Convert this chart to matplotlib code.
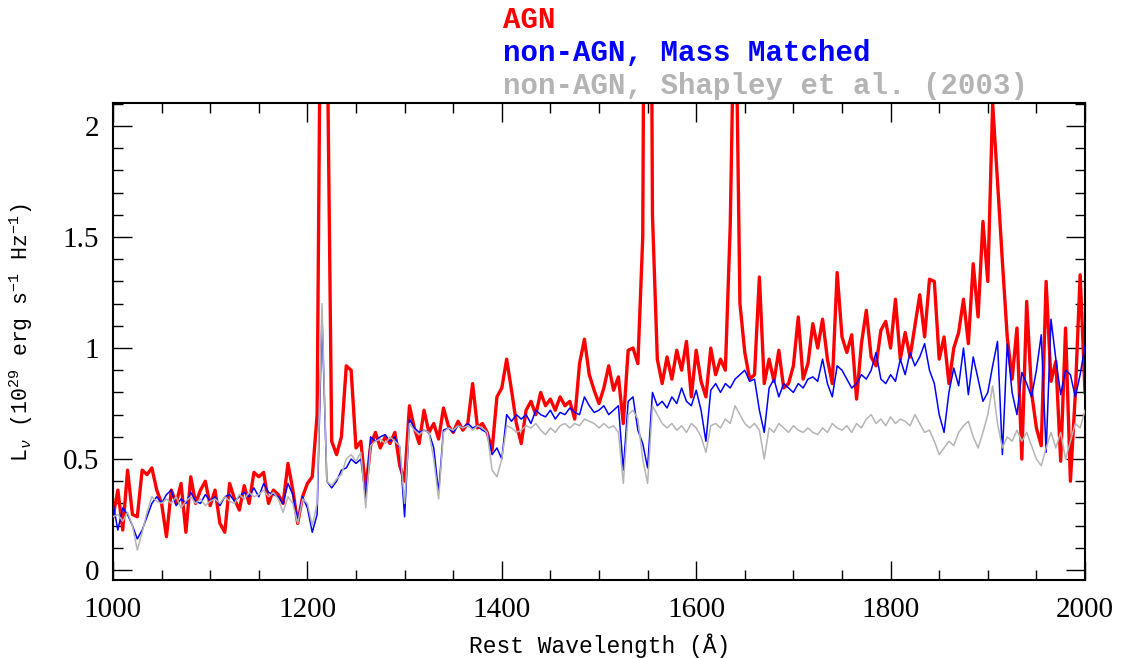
import numpy as np
import matplotlib
matplotlib.use("Agg")
import matplotlib.pyplot as plt
from matplotlib.ticker import MultipleLocator

# Rest-frame wavelength grid (Angstrom), 5 A bins
wavelength = np.arange(1000, 2001, 5)

# Composite spectra, L_nu in units of 1e29 erg/s/Hz
agn = [
    0.24, 0.36, 0.18, 0.45, 0.25, 0.24, 0.45, 0.43, 0.46, 0.36,
    0.30, 0.15, 0.36, 0.30, 0.39, 0.17, 0.42, 0.30, 0.36, 0.40,
    0.29, 0.36, 0.21, 0.17, 0.39, 0.32, 0.27, 0.38, 0.30, 0.44,
    0.42, 0.44, 0.30, 0.36, 0.34, 0.30, 0.48, 0.36, 0.21, 0.33,
    0.39, 0.42, 0.70, 3.50, 2.60, 0.58, 0.52, 0.60, 0.92, 0.90,
    0.55, 0.58, 0.36, 0.56, 0.62, 0.55, 0.60, 0.57, 0.62, 0.47,
    0.40, 0.74, 0.64, 0.57, 0.72, 0.62, 0.66, 0.59, 0.73, 0.65,
    0.62, 0.67, 0.63, 0.66, 0.84, 0.64, 0.66, 0.62, 0.54, 0.78,
    0.82, 0.95, 0.81, 0.66, 0.57, 0.72, 0.76, 0.70, 0.80, 0.74,
    0.77, 0.72, 0.78, 0.74, 0.76, 0.68, 0.93, 1.04, 0.88, 0.81,
    0.75, 0.82, 0.92, 0.81, 0.87, 0.66, 0.99, 1.00, 0.93, 1.50,
    6.00, 1.60, 0.95, 0.84, 0.96, 0.86, 0.99, 0.90, 1.03, 0.78,
    0.99, 0.85, 0.78, 1.00, 0.88, 0.95, 0.90, 1.55, 2.80, 1.20,
    0.98, 0.86, 0.88, 1.32, 0.84, 0.95, 0.85, 0.99, 0.82, 0.84,
    0.92, 1.14, 0.86, 0.93, 1.11, 1.00, 1.13, 0.95, 0.84, 1.34,
    1.05, 0.98, 1.06, 0.77, 1.02, 1.17, 0.96, 0.92, 1.08, 1.12,
    1.00, 1.22, 0.95, 1.07, 0.96, 1.10, 1.24, 1.05, 1.31, 1.30,
    0.95, 1.05, 0.84, 1.00, 1.07, 1.22, 1.02, 1.38, 1.14, 1.57,
    1.30, 2.10, 1.75, 1.39, 1.05, 0.86, 1.09, 0.50, 1.21, 0.80,
    0.64, 0.56, 1.30, 0.85, 0.94, 0.49, 1.09, 0.40, 0.79, 1.33,
    0.80,
]

mass_matched = [
    0.30, 0.18, 0.28, 0.25, 0.20, 0.14, 0.18, 0.24, 0.30, 0.33,
    0.30, 0.34, 0.36, 0.29, 0.32, 0.30, 0.35, 0.31, 0.30, 0.34,
    0.31, 0.33, 0.29, 0.33, 0.34, 0.31, 0.33, 0.35, 0.33, 0.37,
    0.33, 0.39, 0.35, 0.34, 0.33, 0.30, 0.39, 0.34, 0.22, 0.33,
    0.28, 0.17, 0.25, 1.15, 0.40, 0.37, 0.40, 0.45, 0.46, 0.50,
    0.48, 0.50, 0.32, 0.60, 0.58, 0.60, 0.61, 0.58, 0.60, 0.55,
    0.24, 0.68, 0.64, 0.62, 0.63, 0.62, 0.55, 0.35, 0.63, 0.64,
    0.62, 0.65, 0.64, 0.66, 0.64, 0.65, 0.63, 0.62, 0.52, 0.55,
    0.50, 0.70, 0.67, 0.70, 0.68, 0.70, 0.66, 0.72, 0.70, 0.69,
    0.72, 0.68, 0.71, 0.70, 0.73, 0.71, 0.70, 0.78, 0.74, 0.71,
    0.72, 0.74, 0.70, 0.72, 0.74, 0.45, 0.76, 0.78, 0.63, 0.57,
    0.46, 0.80, 0.74, 0.76, 0.73, 0.78, 0.75, 0.82, 0.76, 0.74,
    0.81, 0.72, 0.58, 0.81, 0.84, 0.80, 0.84, 0.82, 0.86, 0.88,
    0.90, 0.85, 0.86, 0.72, 0.62, 0.82, 0.86, 0.78, 0.84, 0.82,
    0.80, 0.84, 0.82, 0.86, 0.87, 0.85, 0.95, 0.84, 0.78, 0.92,
    0.90, 0.86, 0.82, 0.84, 0.88, 0.86, 0.90, 0.98, 0.86, 0.84,
    0.88, 0.85, 0.95, 0.88, 0.98, 0.92, 0.96, 1.02, 0.90, 0.84,
    0.70, 0.62, 0.80, 0.91, 0.83, 1.00, 0.79, 0.96, 0.86, 0.76,
    0.80, 0.92, 1.03, 0.52, 1.02, 0.80, 0.70, 0.89, 0.84, 0.78,
    0.90, 1.06, 0.53, 1.13, 0.95, 0.79, 0.90, 0.88, 0.78, 0.88,
    1.01,
]

shapley = [
    0.24, 0.25, 0.22, 0.26, 0.20, 0.09, 0.17, 0.26, 0.33, 0.31,
    0.30, 0.32, 0.30, 0.33, 0.28, 0.31, 0.33, 0.30, 0.32, 0.29,
    0.31, 0.32, 0.30, 0.33, 0.31, 0.30, 0.34, 0.32, 0.35, 0.33,
    0.34, 0.36, 0.33, 0.35, 0.32, 0.26, 0.33, 0.30, 0.21, 0.32,
    0.30, 0.20, 0.30, 1.20, 0.40, 0.38, 0.41, 0.43, 0.50, 0.52,
    0.49, 0.53, 0.28, 0.56, 0.58, 0.59, 0.57, 0.60, 0.58, 0.56,
    0.30, 0.66, 0.63, 0.61, 0.63, 0.62, 0.50, 0.32, 0.62, 0.64,
    0.63, 0.65, 0.64, 0.65, 0.63, 0.65, 0.64, 0.62, 0.45, 0.42,
    0.50, 0.65, 0.64, 0.62, 0.63, 0.65, 0.64, 0.66, 0.63, 0.61,
    0.64, 0.62, 0.65, 0.66, 0.64, 0.66, 0.65, 0.68, 0.67, 0.66,
    0.64, 0.66, 0.64, 0.65, 0.62, 0.39, 0.70, 0.72, 0.68, 0.50,
    0.39, 0.74, 0.70, 0.66, 0.64, 0.66, 0.63, 0.65, 0.62, 0.66,
    0.64, 0.60, 0.53, 0.65, 0.66, 0.64, 0.68, 0.66, 0.74, 0.70,
    0.66, 0.64, 0.66, 0.63, 0.50, 0.64, 0.62, 0.66, 0.64, 0.62,
    0.65, 0.63, 0.62, 0.64, 0.62, 0.61, 0.64, 0.62, 0.66, 0.64,
    0.63, 0.65, 0.62, 0.66, 0.64, 0.68, 0.70, 0.66, 0.68, 0.65,
    0.69, 0.66, 0.68, 0.67, 0.65, 0.70, 0.66, 0.62, 0.63, 0.58,
    0.52, 0.55, 0.58, 0.56, 0.62, 0.65, 0.67, 0.60, 0.55, 0.62,
    0.70, 0.83, 0.66, 0.55, 0.60, 0.58, 0.63, 0.58, 0.62, 0.56,
    0.50, 0.47, 0.55, 0.62, 0.55, 0.62, 0.50, 0.58, 0.66, 0.64,
    0.72,
]

series_labels = ["AGN", "non-AGN, Mass Matched", "non-AGN, Shapley et al. (2003)"]
series_colors = ["#ff0000", "#0000ff", "#b4b4b4"]

plt.rcParams["mathtext.fontset"] = "custom"
plt.rcParams["mathtext.rm"] = "Liberation Mono"
plt.rcParams["mathtext.it"] = "Liberation Mono:italic"
plt.rcParams["mathtext.bf"] = "Liberation Mono:bold"

W, H = 1125, 658
fig = plt.figure(figsize=(W / 100, H / 100), dpi=100)
ax = fig.add_axes([113 / W, 1 - 580 / H, (1085 - 113) / W, (580 - 103) / H])

ax.plot(wavelength, agn, color=series_colors[0], lw=2.4, zorder=2)
ax.plot(wavelength, mass_matched, color=series_colors[1], lw=1.1, zorder=3)
ax.plot(wavelength, shapley, color=series_colors[2], lw=1.1, zorder=4)

ax.set_xlim(1000, 2000)
ax.set_ylim(-0.045, 2.104)

ax.xaxis.set_major_locator(MultipleLocator(200))
ax.xaxis.set_minor_locator(MultipleLocator(50))
ax.yaxis.set_major_locator(MultipleLocator(0.5))
ax.yaxis.set_minor_locator(MultipleLocator(0.1))
ax.yaxis.set_major_formatter(matplotlib.ticker.FuncFormatter(
    lambda v, p: f"{v:g}"))

ax.tick_params(which="both", direction="in", top=True, right=True, color="black")
ax.tick_params(which="major", length=14, width=1.0)
ax.tick_params(which="minor", length=7, width=1.0)
ax.tick_params(axis="x", which="major", pad=12)
ax.tick_params(axis="y", which="major", pad=10)
for lab in ax.get_xticklabels() + ax.get_yticklabels():
    lab.set_fontfamily("Liberation Serif")
    lab.set_fontsize(21)
for sp in ax.spines.values():
    sp.set_linewidth(1.5)

fig.text(600 / W, 1 - 646 / H, "Rest Wavelength (Å)", ha="center", va="center",
         fontsize=16.5, family="Liberation Mono")
fig.text(21 / W, 1 - 333 / H,
         r"L$_{\nu}$ (10$^{29}$ erg s$^{-1}$ Hz$^{-1}$)",
         ha="center", va="center", rotation=90, fontsize=15.5,
         family="Liberation Mono")

for lab, col, base in zip(series_labels, series_colors, [28, 61, 94]):
    fig.text(503 / W, 1 - base / H, lab, color=col, ha="left", va="baseline",
             fontsize=21, fontweight="bold", family="Liberation Mono")

fig.savefig("out.png", dpi=100)
